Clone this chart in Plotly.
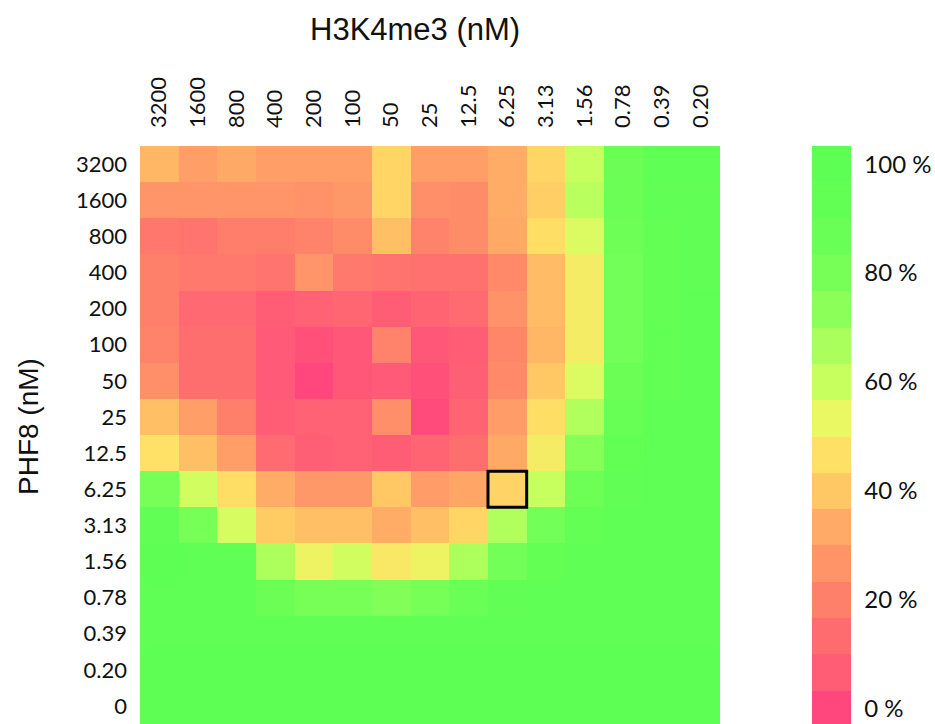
import plotly.graph_objects as go

# Concentration labels (nM)
h3k4me3 = ["3200", "1600", "800", "400", "200", "100", "50", "25", "12.5",
           "6.25", "3.13", "1.56", "0.78", "0.39", "0.20"]
phf8 = ["3200", "1600", "800", "400", "200", "100", "50", "25", "12.5",
        "6.25", "3.13", "1.56", "0.78", "0.39", "0.20", "0"]

# Remaining activity (%) per PHF8 row, one value per H3K4me3 column
activity = [
    [36, 30, 33, 30, 30, 30, 44, 30, 30, 34, 44, 60, 86, 96, 97],
    [27, 27, 27, 27, 26, 28, 44, 25, 24, 34, 42, 63, 86, 94, 94],
    [17, 16, 19, 19, 21, 24, 38, 21, 24, 33, 46, 56, 85, 92, 94],
    [20, 18, 18, 16, 27, 18, 16, 15, 15, 23, 37, 50, 83, 92, 94],
    [20, 12, 12, 7, 9, 11, 7, 10, 13, 26, 37, 50, 83, 92, 96],
    [21, 14, 14, 6, 3, 5, 21, 5, 7, 22, 36, 50, 83, 93, 96],
    [25, 14, 14, 6, 0, 5, 6, 3, 8, 23, 40, 56, 86, 93, 96],
    [38, 30, 20, 7, 9, 9, 25, 1, 10, 29, 46, 65, 89, 96, 96],
    [47, 38, 30, 13, 8, 9, 7, 10, 14, 33, 50, 75, 93, 96, 98],
    [80, 58, 46, 34, 28, 28, 40, 29, 32, 43, 60, 85, 94, 98, 98],
    [95, 81, 57, 41, 38, 38, 34, 38, 44, 65, 83, 92, 97, 98, 98],
    [99, 97, 96, 66, 52, 58, 49, 52, 66, 83, 92, 98, 98, 98, 98],
    [98, 98, 97, 86, 80, 80, 77, 81, 87, 95, 98, 98, 98, 98, 98],
    [98, 96, 97, 97, 97, 97, 96, 97, 98, 98, 98, 98, 98, 98, 98],
    [99, 99, 99, 99, 99, 99, 99, 99, 99, 99, 99, 99, 99, 99, 99],
    [100, 100, 100, 100, 100, 100, 100, 100, 100, 100, 100, 100, 100, 100, 100],
]

# Highlighted condition
highlight = ("6.25", "6.25")

cbar_ticks = [0, 20, 40, 60, 80, 100]
cbar_text = ["0 %", "20 %", "40 %", "60 %", "80 %", "100 %"]

# 16 colour steps, 0 % (pink) to 100 % (green); each step spans 20/3 %
steps = ["#FF477D", "#FF5C76", "#FF6C70", "#FF806A", "#FF9468", "#FFAA66",
         "#FFC864", "#FFE066", "#EAF864", "#C6FF5E", "#AAFF5C", "#8CFF59",
         "#78FF57", "#6AFF56", "#62FF55", "#5DFF55"]
n = len(steps)
zmin, zmax = -10 / 3, 310 / 3

smooth = [[0.0, steps[0]]]
for k, c in enumerate(steps):
    smooth.append([(2 * k + 1) / (2 * n), c])
smooth.append([1.0, steps[-1]])

stepped = []
for k, c in enumerate(steps):
    stepped.append([k / n, c])
    stepped.append([(k + 1) / n, c])

tick_font = dict(family="Lato", size=22, color="#111111")
title_font = dict(family="Liberation Sans", color="#111111")

fig = go.Figure()
fig.add_trace(go.Heatmap(
    x=h3k4me3, y=phf8, z=activity,
    colorscale=smooth, zmin=zmin, zmax=zmax,
    showscale=False,
    hovertemplate="H3K4me3 %{x} nM<br>PHF8 %{y} nM<br>%{z} %<extra></extra>",
))

# Stepped colour bar
fig.add_trace(go.Scatter(
    x=[None], y=[None], mode="markers", showlegend=False, hoverinfo="skip",
    marker=dict(
        color=[0], colorscale=stepped, cmin=zmin, cmax=zmax, showscale=True,
        colorbar=dict(
            x=1.1586, xanchor="left", xpad=0,
            y=1, yanchor="top", ypad=0,
            lenmode="pixels", len=581, thickness=39,
            outlinewidth=0,
            tickvals=cbar_ticks, ticktext=cbar_text,
            ticks="outside", ticklen=9, tickcolor="rgba(0,0,0,0)",
            tickfont=dict(family="Lato", size=24, color="#111111"),
        ),
    ),
))

xi = h3k4me3.index(highlight[0])
yi = phf8.index(highlight[1])
fig.add_shape(type="rect", xref="x", yref="y",
              x0=xi - 0.5, x1=xi + 0.5, y0=yi - 0.5, y1=yi + 0.5,
              line=dict(color="black", width=3), fillcolor="rgba(0,0,0,0)")

fig.add_annotation(text="H3K4me3 (nM)", xref="paper", yref="paper",
                   x=(415 - 140) / 580, y=1 + (146 - 29) / 578,
                   showarrow=False, xanchor="center", yanchor="middle",
                   font=dict(size=31, **title_font))
fig.add_annotation(text="PHF8 (nM)", xref="paper", yref="paper",
                   x=(28 - 140) / 580, y=(724 - 427) / 578, textangle=-90,
                   showarrow=False, xanchor="center", yanchor="middle",
                   font=dict(size=28, **title_font))

fig.update_layout(
    template="none",
    width=935, height=724,
    margin=dict(l=140, r=215, t=146, b=0, autoexpand=False),
    paper_bgcolor="white", plot_bgcolor="white",
    xaxis=dict(type="category", side="top", tickangle=-90, ticks="",
               showgrid=False, zeroline=False, showline=False,
               tickfont=tick_font, ticklabelstandoff=17, automargin=False),
    yaxis=dict(type="category", autorange="reversed", ticks="",
               showgrid=False, zeroline=False, showline=False,
               tickfont=tick_font, ticklabelstandoff=12, automargin=False),
)

fig.write_html("out.html")
